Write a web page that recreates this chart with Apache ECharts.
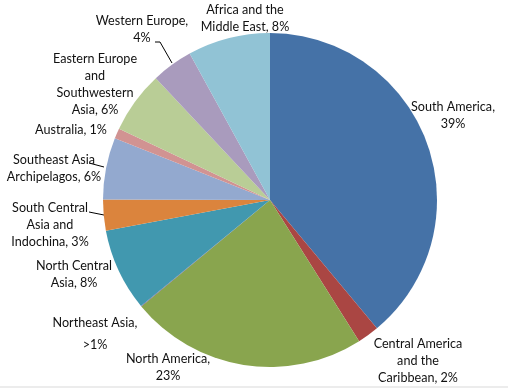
<!DOCTYPE html>
<html>
<head>
<meta charset="utf-8">
<script src="https://cdn.jsdelivr.net/npm/echarts@6/dist/echarts.min.js"></script>
<style>
html,body{margin:0;padding:0;background:#fff;}
#chart{width:508px;height:388px;}
</style>
</head>
<body>
<div id="chart"></div>
<script>
// Categories in clockwise order starting at 12 o'clock
var categories = [
  'South America',
  'Central America and the Caribbean',
  'North America',
  'Northeast Asia',
  'North Central Asia',
  'South Central Asia and Indochina',
  'Southeast Asia Archipelagos',
  'Australia',
  'Eastern Europe and Southwestern Asia',
  'Western Europe',
  'Africa and the Middle East'
];
var values = [39, 2.1, 23, 0.05, 8, 3, 6, 1, 6, 4, 8];
var percentLabels = ['39%', '2%', '23%', '>1%', '8%', '3%', '6%', '1%', '6%', '4%', '8%'];
// Displayed label text (wrapped as in the original)
var labelTexts = [
  'South America,\n39%',
  'Central America\nand the\nCaribbean, 2%',
  'North America,\n23%',
  'Northeast Asia,\n>1%',
  'North Central\nAsia, 8%',
  'South Central\nAsia and\nIndochina, 3%',
  'Southeast Asia\nArchipelagos, 6%',
  'Australia, 1%',
  'Eastern Europe\nand\nSouthwestern\nAsia, 6%',
  'Western Europe,\n4%',
  'Africa and the\nMiddle East, 8%'
];

var colors = ['#4572A7','#AA4643','#89A54E','#71588F','#4198AF','#DB843D','#93A9CF','#D19392','#B9CD96','#A99BBD','#91C3D5'];

// label placement (layout only)
var labelCenters = [
  [453,115],[418,361],[168,367],[95,334],[74,274],[50,225],[54,168],[71,130],[95,84],[142,29],[245,18]
];
var leaderLines = {
  9: [[155,42],[160,42],[172,63]],
  6: [[89,163],[104,167]],
  5: [[89,212],[104,215]]
};

var chart = echarts.init(document.getElementById('chart'), null, {renderer:'canvas'});
var data = categories.map(function(c,i){
  return {
    name: c,
    value: values[i],
    itemStyle: {color: colors[i]},
    label: {lineHeight: i === 3 ? 22 : 17},
    labelLine: {show: leaderLines[i] !== undefined}
  };
});

chart.setOption({
  animation: false,
  backgroundColor: '#ffffff',
  graphic: [{
    type: 'rect', left: 0, bottom: 0,
    shape: {width: 508, height: 2},
    style: {fill: '#ececec'}
  }],
  series: [{
    type: 'pie',
    center: [270, 200],
    radius: [0, 167],
    startAngle: 90,
    clockwise: true,
    avoidLabelOverlap: false,
    minAngle: 0,
    itemStyle: {borderWidth: 0},
    label: {
      show: true,
      position: 'outside',
      fontFamily: 'Lato',
      fontSize: 12.6,
      color: '#111111',
      align: 'center',
      formatter: function(p){ return labelTexts[p.dataIndex]; }
    },
    labelLine: {show: false, lineStyle: {color: '#000', width: 1}, length: 5, length2: 5, smooth: false},
    labelLayout: function(p){
      var c = labelCenters[p.dataIndex];
      var r = {x: c[0], y: c[1], align: 'center', verticalAlign: 'middle'};
      if (leaderLines[p.dataIndex]) r.labelLinePoints = leaderLines[p.dataIndex];
      return r;
    },
    data: data
  }]
});
</script>
</body>
</html>
